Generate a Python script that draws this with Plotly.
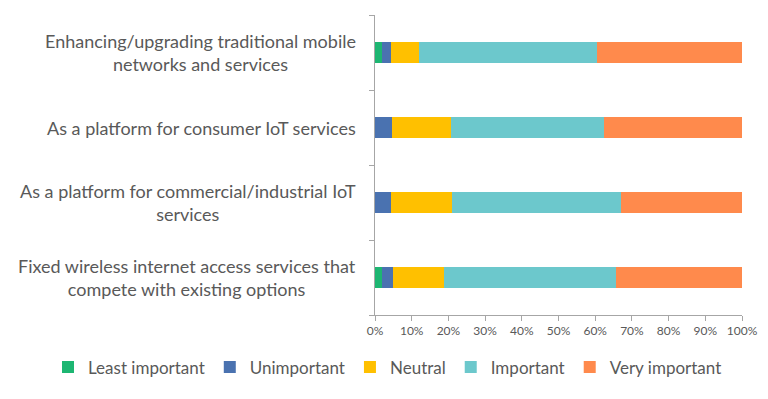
import plotly.graph_objects as go

categories = [
    "Enhancing/upgrading traditional mobile<br>networks and services",
    "As a platform for consumer IoT services",
    "As a platform for commercial/industrial IoT<br>services",
    "Fixed wireless internet access services that<br>compete with existing options",
]
series_names = ["Least important", "Unimportant", "Neutral", "Important", "Very important"]
least_important = [1.8, 0.0, 0.0, 1.8]
unimportant = [2.6, 4.6, 4.4, 3.1]
neutral = [7.6, 16.1, 16.5, 14.0]
important = [48.6, 41.8, 46.1, 46.8]
very_important = [39.4, 37.5, 33.0, 34.3]
tick_vals = [0, 10, 20, 30, 40, 50, 60, 70, 80, 90, 100]
tick_text = ["0%", "10%", "20%", "30%", "40%", "50%", "60%", "70%", "80%", "90%", "100%"]

colors = ["#1DB672", "#4A72B0", "#FFC000", "#6CC8CC", "#FF8A4C"]
values = [least_important, unimportant, neutral, important, very_important]

FONT = "Lato"
GREY = "#595959"

fig = go.Figure()
for name, vals, col in zip(series_names, values, colors):
    fig.add_trace(go.Bar(
        y=list(range(len(categories))), x=vals, name=name, orientation="h",
        marker=dict(color=col, line=dict(width=0)),
    ))

for i, cat in enumerate(categories):
    fig.add_annotation(
        x=-0.045, xref="paper", y=i, yref="y", text=cat, showarrow=False,
        xanchor="right", yanchor="middle", align="center",
        font=dict(family=FONT, size=18, color=GREY),
    )

fig.update_layout(
    barmode="stack",
    bargap=0.72,
    width=760, height=391,
    margin=dict(l=367, r=26, t=7, b=84),
    plot_bgcolor="white", paper_bgcolor="white",
    font=dict(family=FONT, color=GREY),
    showlegend=True,
    legend=dict(
        orientation="h", xref="paper", yref="paper",
        x=-0.891, xanchor="left", y=-0.175, yanchor="middle",
        font=dict(family=FONT, size=17, color=GREY),
        traceorder="normal", itemwidth=30,
    ),
    xaxis=dict(
        range=[0, 100], tickvals=tick_vals, ticktext=tick_text,
        showgrid=False, zeroline=False,
        showline=True, linecolor="#A6A6A6", linewidth=1,
        ticks="outside", ticklen=5, tickcolor="#A6A6A6",
        tickfont=dict(family=FONT, size=12, color=GREY),
    ),
    yaxis=dict(
        range=[3.5, -0.5], tickvals=[-0.5, 0.5, 1.5, 2.5, 3.5],
        showticklabels=False,
        showgrid=False, zeroline=False,
        showline=True, linecolor="#A6A6A6", linewidth=1,
        ticks="outside", ticklen=5, tickcolor="#A6A6A6",
    ),
)

fig.write_html("out.html")
